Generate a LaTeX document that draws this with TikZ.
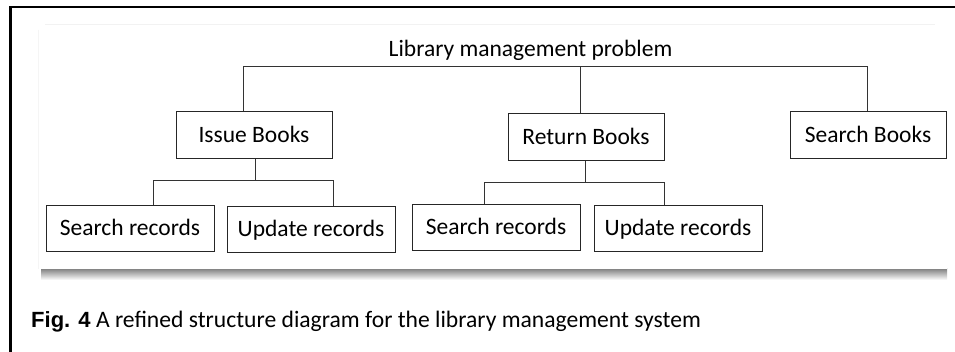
\documentclass[tikz,border=0pt]{standalone}
\usepackage{fontspec}
\setmainfont{Carlito}
\newfontfamily\capfont{Liberation Sans}
\begin{document}
\begin{tikzpicture}[x=1pt,y=-1pt,
  box/.style={draw=black!85, line width=1pt, fill=white, inner sep=0pt,
    text height=14.5pt, text depth=0pt, font=\fontsize{23.5}{28}\selectfont},
  wide/.style={minimum width=156pt, minimum height=47pt},
  leaf/.style={minimum width=168pt, minimum height=45.5pt},
  link/.style={draw=black!80, line width=0.9pt}]
\useasboundingbox (0,0) rectangle (955,352);
% page frame (top and left edges)
\draw[line width=2.4pt] (10.5,352) -- (10.5,7) -- (955,7);
% panel: faint edges and bottom drop shadow
\shade[top color=black!48, bottom color=white] (41,269) rectangle (947,280);
\fill[white] (38,24) rectangle (947,269.5);
\draw[black!5, line width=0.8pt] (45,24.5) -- (935,24.5);
\draw[black!4, line width=0.8pt] (38,30) -- (38,269);
% root label
\node[anchor=base, inner sep=0pt, font=\fontsize{23.5}{28}\selectfont] (root) at (530.5,56.5) {Library management problem};
\coordinate (bus) at (0,66);
% first level
\node[box, wide] (issue)  at (254,135.5) {Issue Books};
\node[box, wide] (return) at (586,137.5) {Return Books};
\node[box, wide] (sbooks) at (868,135.5) {Search Books};
% second level
\node[box, leaf] (srec1) at (130,228.5) {Search records};
\node[box, leaf] (urec1) at (311,229.5) {Update records};
\node[box, leaf] (srec2) at (496,227.5) {Search records};
\node[box, leaf] (urec2) at (678,228.5) {Update records};
% connectors from the root bus
\draw[link] ([xshift=-11pt]issue.north) -- ([xshift=-11pt]issue.north |- bus)
  -- ([xshift=-1pt]sbooks.north |- bus) -- ([xshift=-1pt]sbooks.north);
\draw[link] ([xshift=-6pt]return.north) -- ([xshift=-6pt]return.north |- bus);
% connectors under Issue Books
\coordinate (busA) at (0,180);
\draw[link] ([xshift=1pt]issue.south) -- ([xshift=1pt]issue.south |- busA);
\draw[link] ([xshift=23pt]srec1.north) -- ([xshift=23pt]srec1.north |- busA)
  -- ([xshift=22pt]urec1.north |- busA) -- ([xshift=22pt]urec1.north);
% connectors under Return Books
\coordinate (busB) at (0,182);
\draw[link] ([xshift=-1pt]return.south) -- ([xshift=-1pt]return.south |- busB);
\draw[link] ([xshift=-12pt]srec2.north) -- ([xshift=-12pt]srec2.north |- busB)
  -- ([xshift=-14pt]urec2.north |- busB) -- ([xshift=-14pt]urec2.north);
% caption
\node[anchor=base west, inner sep=0pt] (caption) at (31,327)
  {{\capfont\bfseries\fontsize{22}{26}\selectfont Fig. 4}\fontsize{23.6}{28}\selectfont\ A refined structure diagram for the library management system};
\end{tikzpicture}
\end{document}
